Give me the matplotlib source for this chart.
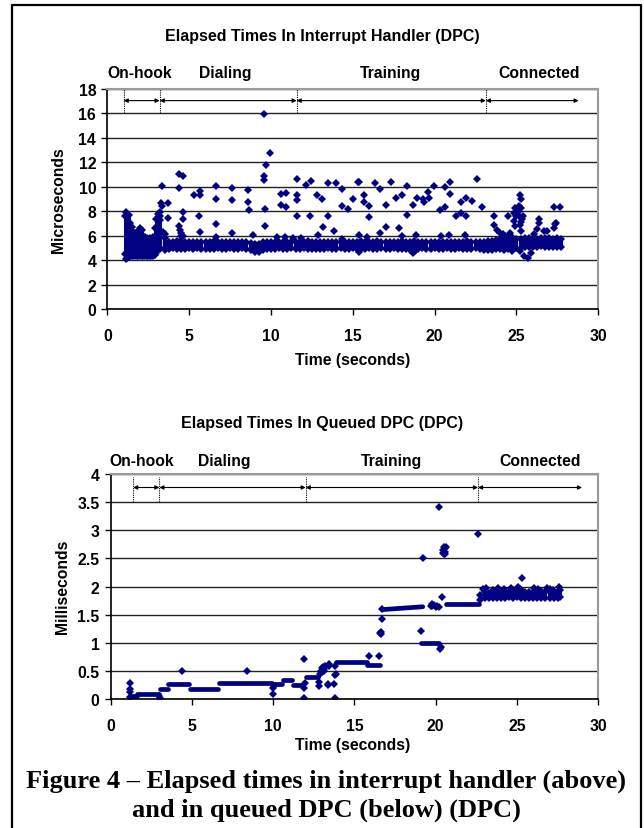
import numpy as np
import matplotlib
matplotlib.use('Agg')
import matplotlib.pyplot as plt
from matplotlib.lines import Line2D

# ---------------- shared ----------------
phases = ['On-hook', 'Dialing', 'Training', 'Connected']
xticks = [0, 5, 10, 15, 20, 25, 30]

# ---------------- top chart: interrupt handler (microseconds) ----------------
top_title = 'Elapsed Times In Interrupt Handler (DPC)'
top_ylabel = 'Microseconds'
top_yticks = [0, 2, 4, 6, 8, 10, 12, 14, 16, 18]
top_phase_bounds = [1.0, 3.2, 11.57, 23.13, 28.8]
top_label_x = [2.0, 7.2, 17.3, 26.4]

# on-hook burst: time, min and max of the dense cloud
burst_t = [1.08, 1.15, 1.2, 1.3, 1.4, 1.5, 1.6, 1.7, 1.8, 1.9, 2.0, 2.1, 2.2, 2.3,
           2.4, 2.5, 2.6, 2.7, 2.8, 2.9, 3.0, 3.1, 3.2]
burst_lo = [4.5, 4.1, 4.2, 4.25, 4.3, 4.3, 4.3, 4.3, 4.3, 4.3, 4.3, 4.3, 4.3, 4.3,
            4.35, 4.3, 4.3, 4.35, 4.3, 4.4, 4.6, 4.9, 5.0]
burst_hi = [7.6, 7.9, 7.8, 7.7, 7.0, 6.7, 6.3, 6.2, 6.1, 6.4, 6.6, 6.5, 6.0, 5.9,
            5.8, 5.7, 5.8, 5.6, 5.9, 6.6, 7.4, 7.8, 7.3]

# main band of samples: time, lower and upper edge
band_t = [3.25, 3.5, 3.75, 4.0, 4.25, 4.5, 4.75, 5.0, 5.25, 5.5, 5.75, 6.0, 6.25, 6.5,
          6.75, 7.0, 7.25, 7.5, 7.75, 8.0, 8.25, 8.5, 8.75, 9.0, 9.25, 9.5, 9.75, 10.0,
          10.25, 10.5, 10.75, 11.0, 11.25, 11.5, 11.75, 12.0, 12.25, 12.5, 12.75, 13.0,
          13.25, 13.5, 13.75, 14.0, 14.25, 14.5, 14.75, 15.0, 15.25, 15.5, 15.75, 16.0,
          16.25, 16.5, 16.75, 17.0, 17.25, 17.5, 17.75, 18.0, 18.25, 18.5, 18.75, 19.0,
          19.25, 19.5, 19.75, 20.0, 20.25, 20.5, 20.75, 21.0, 21.25, 21.5, 21.75, 22.0,
          22.25, 22.5, 22.75, 23.0, 23.25, 23.5, 23.75, 24.0, 24.25, 24.5, 24.75, 25.0,
          25.25, 25.5, 25.75, 26.0, 26.25, 26.5, 26.75, 27.0, 27.25, 27.5, 27.75]
band_lo = [4.9, 4.85, 4.95, 5.0, 4.95, 4.9, 4.95, 5.0, 4.95, 5.0, 4.95, 4.9, 4.95, 4.95,
           5.0, 4.95, 4.95, 5.0, 4.95, 4.95, 5.0, 4.9, 4.85, 4.7, 4.65, 4.8, 4.95, 4.95,
           4.95, 5.0, 4.95, 4.95, 5.0, 4.95, 4.95, 5.0, 4.95, 4.95, 4.95, 4.9,
           4.95, 5.0, 4.95, 4.95, 5.0, 4.95, 4.95, 5.0, 4.95, 4.9, 4.95, 5.0,
           4.95, 4.95, 5.0, 4.95, 4.95, 5.0, 4.95, 4.95, 4.95, 4.85, 4.8, 4.95,
           5.0, 4.95, 4.95, 5.0, 4.95, 4.95, 5.0, 4.95, 4.95, 5.0, 4.95, 4.95,
           4.95, 5.0, 4.9, 4.85, 4.8, 4.85, 4.9, 4.9, 4.85, 4.95, 5.0, 5.0,
           5.0, 5.1, 5.1, 5.05, 5.1, 5.15, 5.1, 5.05, 5.1, 5.05, 5.1]
band_hi = [6.2, 5.8, 5.5, 5.5, 5.6, 6.0, 5.5, 5.45, 5.5, 5.45, 5.5, 5.5, 5.45, 5.6,
           5.5, 5.45, 5.5, 5.45, 5.5, 5.45, 5.5, 5.45, 5.4, 5.35, 5.3, 5.45, 5.5, 5.45,
           5.5, 5.45, 5.5, 5.45, 5.5, 5.5, 5.45, 5.5, 5.55, 5.5, 5.45, 5.5,
           5.5, 5.45, 5.5, 5.5, 5.45, 5.5, 5.5, 5.45, 5.5, 5.55, 5.5, 5.45,
           5.5, 5.55, 5.5, 5.45, 5.5, 5.5, 5.45, 5.55, 5.5, 5.5, 5.55, 5.5,
           5.45, 5.5, 5.5, 5.45, 5.5, 5.5, 5.45, 5.5, 5.5, 5.45, 5.5, 5.55,
           5.5, 5.45, 5.5, 5.5, 5.55, 5.6, 5.65, 5.7, 5.75, 5.8, 5.9, 5.7,
           5.75, 5.8, 5.85, 5.8, 5.75, 5.8, 5.85, 5.8, 5.75, 5.8, 5.75]

# isolated samples (time, microseconds)
top_points = [
    (3.25, 7.9), (3.3, 8.7), (3.35, 8.45), (3.37, 10.1), (3.2, 7.6), (3.4, 6.3),
    (3.69, 8.7), (3.69, 7.46), (3.5, 6.1), (4.38, 11.05), (4.65, 10.9), (4.38, 9.9),
    (4.65, 7.92), (4.65, 7.33), (4.38, 6.78), (4.44, 6.5), (4.5, 6.2), (4.6, 6.0),
    (5.62, 7.6), (5.67, 6.32), (5.32, 9.36), (5.67, 9.63), (5.67, 9.3),
    (6.64, 10.04), (6.64, 9.04), (6.64, 6.92), (6.64, 5.92),
    (7.64, 9.9), (7.64, 8.9), (7.64, 6.19),
    (8.62, 9.77), (8.62, 8.74), (8.64, 8.06), (8.93, 6.05),
    (9.58, 15.93), (9.95, 12.75), (9.68, 11.75), (9.56, 10.85), (9.6, 10.58),
    (9.62, 8.22), (9.64, 6.78),
    (10.35, 5.89), (10.62, 9.44), (10.9, 9.5), (10.62, 8.49), (10.9, 8.36), (10.86, 5.89),
    (11.37, 5.78), (11.6, 10.66), (11.6, 9.36), (11.6, 8.9), (11.6, 7.65), (11.84, 5.81),
    (12.15, 10.18), (12.47, 10.45), (12.82, 9.36), (13.14, 8.96), (13.49, 10.31),
    (13.47, 7.6), (13.2, 6.68), (12.9, 6.05), (12.37, 7.65), (13.88, 6.35), (13.98, 10.31),
    (14.31, 9.85), (14.37, 8.39), (14.69, 8.2), (15.02, 8.96), (15.3, 10.37), (14.33, 5.7),
    (15.35, 10.39), (15.69, 9.36), (15.69, 8.76), (16.02, 8.39), (16.02, 7.52),
    (16.35, 10.31), (16.67, 9.82), (17.0, 8.49), (17.0, 6.7), (16.67, 6.19),
    (17.32, 10.37), (17.65, 9.09), (17.98, 9.31), (17.85, 6.59), (18.02, 5.97),
    (18.3, 10.1), (18.34, 7.73), (18.67, 8.47), (18.95, 9.09), (19.28, 8.96),
    (19.32, 8.76), (19.61, 9.58), (19.67, 9.09), (19.99, 10.04), (20.3, 8.06),
    (20.65, 9.96), (20.65, 8.36), (20.95, 10.39), (20.95, 9.44), (21.28, 7.6),
    (21.6, 7.87), (21.6, 8.79), (21.93, 9.09), (21.93, 7.6), (22.28, 8.82),
    (22.58, 10.64), (22.91, 8.33),
    (20.38, 5.97), (20.87, 6.05), (21.87, 6.05), (18.87, 6.02), (15.39, 6.02),
    (15.86, 5.92), (15.39, 4.67), (18.67, 4.61), (18.81, 4.75),
    (23.6, 7.65), (23.6, 6.87), (23.8, 6.43), (24.0, 6.24), (24.46, 7.6), (24.62, 6.24),
    (24.74, 4.75), (24.4, 5.83), (24.82, 7.87), (24.92, 8.28), (25.03, 8.0),
    (25.23, 9.36), (25.27, 8.96), (25.29, 8.28), (25.39, 7.65), (25.33, 7.33),
    (24.82, 7.2), (25.13, 8.41), (25.29, 6.38), (25.19, 4.75), (25.43, 4.34),
    (25.68, 4.21), (25.88, 4.56), (26.05, 6.1), (26.25, 6.51), (26.39, 7.0),
    (26.39, 7.33), (26.66, 6.38), (26.86, 6.38), (27.27, 8.36), (27.68, 8.33),
    (27.37, 6.92), (27.43, 7.06), (27.29, 6.65),
    (25.0, 7.6), (25.1, 7.9), (25.2, 7.5), (25.3, 7.1), (24.9, 6.8), (25.2, 6.9),
    (24.3, 6.0), (24.1, 5.9), (24.2, 6.1), (24.55, 5.95),
]

# ---------------- bottom chart: queued DPC (milliseconds) ----------------
bot_title = 'Elapsed Times In Queued DPC (DPC)'
bot_ylabel = 'Milliseconds'
bot_yticks = [0, 0.5, 1, 1.5, 2, 2.5, 3, 3.5, 4]
bot_yticklabels = ['0', '0.5', '1', '1.5', '2', '2.5', '3', '3.5', '4']
bot_phase_bounds = [1.39, 3.0, 12.0, 22.6, 29.0]
bot_label_x = [1.9, 7.0, 17.3, 26.4]

# runs of nearly constant duration: start, end, value at start, value at end
run_t0 = [1.25, 1.6, 3.05, 3.55, 4.9, 6.65, 10.05, 10.6, 11.2, 12.05, 13.85, 15.8, 16.75, 19.1, 20.65]
run_t1 = [1.65, 3.0, 3.55, 4.85, 6.6, 9.95, 10.55, 11.15, 11.85, 12.75, 15.8, 16.55, 19.2, 20.2, 22.65]
run_y0 = [0.05, 0.09, 0.17, 0.26, 0.17, 0.28, 0.26, 0.33, 0.25, 0.40, 0.66, 0.61, 1.59, 0.99, 1.69]
run_y1 = [0.05, 0.09, 0.17, 0.26, 0.17, 0.28, 0.26, 0.33, 0.25, 0.40, 0.66, 0.61, 1.64, 0.99, 1.69]

# connected phase band: time, lower and upper edge
conn_t = [22.75, 23.0, 23.25, 23.5, 23.75, 24.0, 24.25, 24.5, 24.75, 25.0, 25.25, 25.5,
          25.75, 26.0, 26.25, 26.5, 26.75, 27.0, 27.25, 27.5, 27.65]
conn_lo = [1.76, 1.8, 1.79, 1.8, 1.79, 1.8, 1.8, 1.81, 1.8, 1.82, 1.8, 1.79,
           1.8, 1.8, 1.79, 1.8, 1.8, 1.79, 1.8, 1.8, 1.81]
conn_hi = [1.85, 1.9, 1.89, 1.9, 1.92, 1.89, 1.9, 1.91, 1.93, 1.92, 1.94, 1.9,
           1.9, 1.91, 1.9, 1.92, 1.9, 1.91, 1.89, 1.9, 1.94]

bot_points = [
    (1.19, 0.28), (1.19, 0.17), (1.21, 0.12), (1.2, 0.03), (3.02, 0.02), (3.0, 0.05),
    (4.37, 0.49), (8.41, 0.5), (10.0, 0.09), (10.0, 0.19), (10.05, 0.24),
    (11.9, 0.71), (11.9, 0.02), (11.92, 0.19), (11.95, 0.28),
    (12.85, 0.24), (12.8, 0.3), (12.9, 0.45), (12.95, 0.5), (13.0, 0.55), (13.05, 0.57),
    (13.1, 0.56), (13.15, 0.53), (13.2, 0.58), (13.0, 0.48), (13.1, 0.5),
    (13.35, 0.25), (13.4, 0.26), (13.45, 0.59), (13.42, 0.62),
    (13.75, 0.27), (13.8, 0.43), (13.78, 0.02), (13.8, 0.58), (13.85, 0.45),
    (15.88, 0.76), (16.5, 0.77), (16.6, 1.17), (16.62, 1.19), (16.65, 1.15),
    (16.7, 1.43), (16.72, 1.6), (19.11, 1.21), (20.28, 0.89), (20.32, 0.92),
    (19.22, 2.5), (20.2, 3.41),
    (19.7, 1.66), (19.8, 1.65), (19.9, 1.67), (20.0, 1.63), (20.1, 1.65), (20.2, 1.64),
    (19.75, 1.69), (20.38, 1.82),
    (20.42, 2.6), (20.45, 2.65), (20.5, 2.58), (20.55, 2.68), (20.6, 2.62), (20.65, 2.7),
    (20.5, 2.7), (20.6, 2.57), (22.63, 2.94),
    (22.9, 1.95), (23.08, 1.97), (23.8, 1.97), (24.6, 1.98), (25.03, 2.0), (25.33, 2.15),
    (26.07, 1.97), (26.83, 1.97), (27.24, 1.94), (27.58, 2.0), (23.5, 1.94), (24.2, 1.95),
    (25.2, 1.96), (26.3, 1.95), (27.0, 1.95),
]

caption = ['Figure 4 \u2013 Elapsed times in interrupt handler (above)',
           'and in queued DPC (below) (DPC)']

# ---------------- drawing ----------------
plt.rcParams['font.family'] = ['Liberation Sans', 'DejaVu Sans']
plt.rcParams['font.weight'] = 'bold'
NAVY = '#000080'
MS = 4.0
W, H = 644, 829
fig = plt.figure(figsize=(W / 100, H / 100), dpi=100)


def fx(px):
    return px / W


def fy(py):
    return 1 - py / H


def px_axes(l, t, r, b):
    return fig.add_axes([l / W, 1 - b / H, (r - l) / W, (b - t) / H])


ax1 = px_axes(107.3, 90, 598.3, 310)
ax2 = px_axes(110.6, 475, 598.3, 700)


def style(ax, ymax, yticks, yticklabels):
    ax.set_xlim(0, 30)
    ax.set_ylim(0, ymax)
    ax.set_xticks(xticks)
    ax.set_yticks(yticks)
    ax.set_yticklabels(yticklabels)
    ax.set_axisbelow(True)
    ax.yaxis.grid(True, color='#222222', lw=1.0)
    for s in ['left', 'bottom']:
        ax.spines[s].set_color('black')
        ax.spines[s].set_linewidth(1.2)
    for s in ['top', 'right']:
        ax.spines[s].set_color('#9a9a9a')
        ax.spines[s].set_linewidth(1.5)
    ax.tick_params(axis='x', direction='out', length=4, width=1, pad=10, labelsize=11.3)
    ax.tick_params(axis='y', direction='out', length=4, width=1, pad=4, labelsize=11.3)


def phase_marks(ax, bounds, ya, yl0, yl1, label_x, label_y):
    ax.vlines(bounds[:4], yl0, yl1, colors='black', linestyles=(0, (1, 1)), lw=0.8)
    for i in range(4):
        ax.annotate('', xy=(bounds[i + 1], ya), xytext=(bounds[i], ya),
                    arrowprops=dict(arrowstyle='<|-|>', color='black', lw=0.8,
                                    mutation_scale=6, shrinkA=0, shrinkB=0))
        ax.text(label_x[i], label_y, phases[i], transform=ax.get_xaxis_transform(),
                ha='center', va='center', fontsize=11.3, fontweight='bold')


# top chart
style(ax1, 18, top_yticks, [str(v) for v in top_yticks])
ax1.vlines(burst_t, burst_lo, burst_hi, colors=NAVY, lw=2.2)
ax1.plot(burst_t, burst_hi, 'D', color=NAVY, ms=MS, mew=0)
ax1.plot(burst_t, burst_lo, 'D', color=NAVY, ms=MS, mew=0)
ax1.vlines(band_t, band_lo, band_hi, colors=NAVY, lw=3.0)
ax1.plot(band_t, band_hi, 'D', color=NAVY, ms=MS, mew=0)
ax1.plot(band_t, band_lo, 'D', color=NAVY, ms=MS, mew=0)
ax1.plot([p[0] for p in top_points], [p[1] for p in top_points], 'D',
         color=NAVY, ms=MS, mew=0, ls='none')
phase_marks(ax1, top_phase_bounds, 17.05, 16.0, 18.0, top_label_x, 1.073)

# bottom chart
style(ax2, 4, bot_yticks, bot_yticklabels)
for t0, t1, y0, y1 in zip(run_t0, run_t1, run_y0, run_y1):
    ax2.plot([t0, t1], [y0, y1], color=NAVY, lw=3.4, solid_capstyle='round')
ax2.vlines(conn_t, conn_lo, conn_hi, colors=NAVY, lw=3.0)
ax2.plot(conn_t, conn_hi, 'D', color=NAVY, ms=MS, mew=0)
ax2.plot(conn_t, conn_lo, 'D', color=NAVY, ms=MS, mew=0)
ax2.plot([p[0] for p in bot_points], [p[1] for p in bot_points], 'D',
         color=NAVY, ms=MS, mew=0, ls='none')
phase_marks(ax2, bot_phase_bounds, 3.76, 3.5, 3.95, bot_label_x, 1.058)

# titles and axis labels
fig.text(fx(322), fy(37), top_title, ha='center', va='center', fontsize=11.5)
fig.text(fx(322), fy(424), bot_title, ha='center', va='center', fontsize=11.5)
fig.text(fx(59), fy(200), top_ylabel, ha='center', va='center', rotation=90, fontsize=11.3)
fig.text(fx(62), fy(587), bot_ylabel, ha='center', va='center', rotation=90, fontsize=11.3)
fig.text(fx(353), fy(361), 'Time (seconds)', ha='center', va='center', fontsize=11.3)
fig.text(fx(353), fy(746), 'Time (seconds)', ha='center', va='center', fontsize=11.3)
serif = ['Liberation Serif', 'DejaVu Serif']
fig.text(fx(326), fy(788), caption[0], ha='center', va='baseline', fontsize=19,
         family=serif, fontweight='bold')
fig.text(fx(326), fy(817), caption[1], ha='center', va='baseline', fontsize=19,
         family=serif, fontweight='bold')

# page frame (left, top and right edges; bottom lies outside the picture)
frame = Line2D([fx(12.5), fx(12.5), fx(641), fx(641)], [fy(840), fy(6), fy(6), fy(840)],
               transform=fig.transFigure, color='black', lw=1.6)
fig.lines.append(frame)

fig.savefig('out.png', dpi=100)
